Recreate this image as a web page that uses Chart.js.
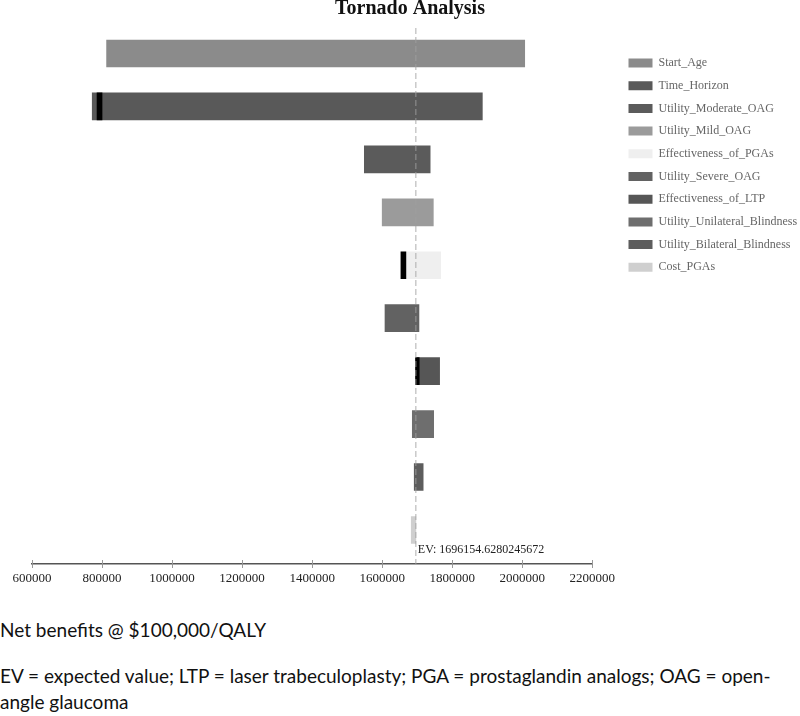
<!DOCTYPE html>
<html lang="en">
<head>
<meta charset="UTF-8">
<title>Tornado Analysis</title>
<script src="https://cdn.jsdelivr.net/npm/chart.js"></script>
<style>
  html, body { margin: 0; padding: 0; background: #fff; overflow: hidden; }
  #wrap { position: relative; width: 800px; height: 600px; }
  .note { position: absolute; left: 0; margin: 0; font-family: Lato, "Liberation Sans", sans-serif; font-size: 19px; line-height: 26px; color: #111; }
  #note1 { top: 617px; }
  #note2 { top: 663px; }
</style>
</head>
<body>
<div id="wrap"><canvas id="chart"></canvas></div>
<p class="note" id="note1">Net benefits @ $100,000/QALY</p>
<p class="note" id="note2">EV = expected value; LTP = laser trabeculoplasty; PGA = prostaglandin analogs; OAG = open-<br>angle glaucoma</p>

<script>
  const categories = [
    "Start_Age", "Time_Horizon", "Utility_Moderate_OAG", "Utility_Mild_OAG",
    "Effectiveness_of_PGAs", "Utility_Severe_OAG", "Effectiveness_of_LTP",
    "Utility_Unilateral_Blindness", "Utility_Bilateral_Blindness", "Cost_PGAs"
  ];
  const lowValues  = [813000, 772000, 1549000, 1600000, 1654000, 1608000, 1695500, 1686000, 1691500, 1683000];
  const highValues = [2007000, 1886000, 1737000, 1746000, 1767000, 1705000, 1764000, 1747000, 1717000, 1696154];
  // black threshold marks drawn over some bars
  const markLow  = [null, 785700, null, null, 1653500, null, 1695500, null, null, null];
  const markHigh = [null, 800000, null, null, 1667700, null, 1705700, null, null, null];
  const barColors = ["#8b8b8b", "#595959", "#5b5b5b", "#9b9b9b", "#efefef", "#626262", "#565656", "#6e6e6e", "#5d5d5d", "#cfcfcf"];
  const xTicks = [600000, 800000, 1000000, 1200000, 1400000, 1600000, 1800000, 2000000, 2200000];
  const evValue = 1696154.6280245672;
  const evText = "EV: 1696154.6280245672";

  const serif = "'Liberation Serif', 'Times New Roman', serif";

  const barData = categories.map((c, i) => ({ y: i, x: [lowValues[i], highValues[i]] }));
  const markData = [];
  markLow.forEach((v, i) => { if (v !== null) markData.push({ y: i, x: [v, markHigh[i]] }); });

  const evLine = {
    id: "evLine",
    afterDatasetsDraw(chart) {
      const { ctx, chartArea, scales } = chart;
      const x = scales.x.getPixelForValue(evValue);
      ctx.save();
      ctx.strokeStyle = "rgba(160,160,160,0.85)";
      ctx.lineWidth = 1;
      ctx.setLineDash([6, 3]);
      ctx.beginPath();
      ctx.moveTo(x, chartArea.top + 1);
      ctx.lineTo(x, chartArea.bottom);
      ctx.stroke();
      ctx.setLineDash([]);
      ctx.fillStyle = "#222";
      ctx.font = "12px " + serif;
      ctx.textBaseline = "middle";
      ctx.fillText(evText, x + 2, chartArea.bottom - 14);
      // tick stubs above the axis line
      ctx.strokeStyle = "#9a9a9a";
      xTicks.forEach(v => {
        const tx = Math.round(scales.x.getPixelForValue(v)) + 0.5;
        ctx.beginPath();
        ctx.moveTo(tx, chartArea.bottom - 4);
        ctx.lineTo(tx, chartArea.bottom);
        ctx.stroke();
      });
      ctx.restore();
    }
  };

  new Chart(document.getElementById("chart"), {
    type: "bar",
    data: {
      datasets: [
        {
          label: "Tornado",
          data: barData,
          backgroundColor: barColors,
          barThickness: 27,
          grouped: false,
          order: 1
        },
        {
          label: "Marks",
          data: markData,
          backgroundColor: "#000",
          barThickness: 27,
          grouped: false,
          order: 0
        }
      ]
    },
    options: {
      indexAxis: "y",
      responsive: true,
      maintainAspectRatio: false,
      animation: false,
      layout: { padding: { left: 20, right: 0, top: 0, bottom: 6 } },
      scales: {
        x: {
          type: "linear",
          min: 600000,
          max: 2200000,
          afterBuildTicks: s => { s.ticks = xTicks.map(v => ({ value: v })); },
          afterFit: s => { s.height = 30; },
          ticks: {
            font: { family: serif, size: 13 },
            color: "#222",
            padding: 3,
            maxRotation: 0,
            autoSkip: false,
            callback: v => String(v)
          },
          grid: { drawOnChartArea: false, tickLength: 4, color: "#9a9a9a" },
          border: { color: "#555", width: 1.5 }
        },
        y: {
          type: "linear",
          reverse: true,
          offset: false,
          min: -0.5,
          max: 9.643,
          ticks: { display: false },
          grid: { display: false },
          border: { display: false },
          afterFit: s => { s.width = 12; }
        },
        y2: {
          type: "linear",
          position: "right",
          ticks: { display: false },
          grid: { display: false },
          border: { display: false },
          afterFit: s => { s.width = 25.5; }
        }
      },
      plugins: {
        tooltip: { enabled: false },
        title: {
          display: true,
          text: "Tornado Analysis",
          color: "#111",
          font: { family: serif, size: 20, weight: "bold", lineHeight: 1 },
          padding: { top: -1, bottom: 8 }
        },
        legend: {
          position: "right",
          align: "start",
          maxWidth: 182.2,
          title: { display: true, text: "", font: { size: 10, lineHeight: 1 }, padding: { top: 0, bottom: 36.3 } },
          labels: {
            boxWidth: 24,
            boxHeight: 9,
            padding: 10.7,
            color: "#222",
            font: { family: serif, size: 12 },
            generateLabels: () => categories.map((c, i) => ({
              text: c,
              fillStyle: barColors[i],
              strokeStyle: barColors[i],
              lineWidth: 0,
              hidden: false,
              index: i
            }))
          }
        }
      }
    },
    plugins: [evLine]
  });
</script>
</body>
</html>
